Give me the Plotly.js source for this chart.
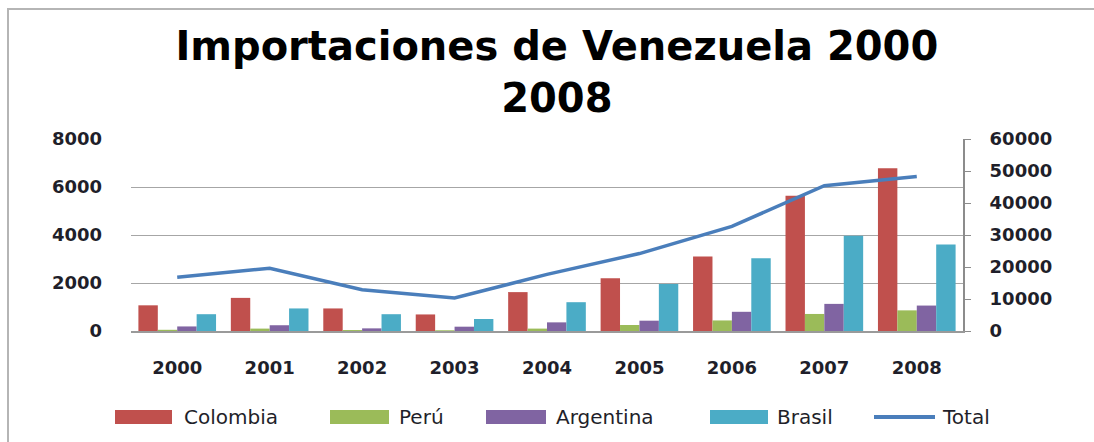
<!DOCTYPE html>
<html>
<head>
<meta charset="utf-8">
<script src="https://cdn.plot.ly/plotly-3.0.1.min.js"></script>
<style>html,body{margin:0;padding:0;background:#fff;}#chart{width:1094px;height:442px;}</style>
</head>
<body>
<div id="chart"></div>
<script>
var years = ['2000','2001','2002','2003','2004','2005','2006','2007','2008'];
var colombia = [1070, 1380, 940, 690, 1620, 2200, 3100, 5640, 6780];
var peru = [50, 100, 40, 30, 100, 250, 440, 710, 860];
var argentina = [190, 240, 110, 180, 360, 430, 800, 1130, 1060];
var brasil = [700, 940, 700, 500, 1200, 1960, 3030, 3970, 3600];
var total = [16800, 19600, 12900, 10300, 17700, 24200, 32700, 45400, 48300];
var leftTicks = [0, 2000, 4000, 6000, 8000];
var rightTicks = [0, 10000, 20000, 30000, 40000, 50000, 60000];

var seriesNames = ['Colombia', 'Perú', 'Argentina', 'Brasil', 'Total'];
var seriesColors = ['#C0504D', '#9BBB59', '#8064A2', '#4BACC6', '#4A7EBB'];

var tickFont = {family: 'DejaVu Sans', size: 18, color: '#1f1f2a', weight: 'bold'};

var barData = [colombia, peru, argentina, brasil];
var traces = barData.map(function (vals, i) {
  return {type: 'bar', name: seriesNames[i], x: years, y: vals, marker: {color: seriesColors[i]}};
});
traces.push({type: 'scatter', mode: 'lines', name: seriesNames[4], x: years, y: total, yaxis: 'y2',
  line: {color: seriesColors[4], width: 3.5}});

// custom legend (layout only): pixel positions of swatch start, swatch end, text start
var W = 1094, H = 442, ML = 131, MR = 131, MT = 139, MB = 111;
var PW = W - ML - MR, PH = H - MT - MB;
function px(x) { return (x - ML) / PW; }
function py(y) { return (H - MB - y) / PH; }
var legendSlots = [[115, 172, 182], [330, 389, 397], [486, 546, 554], [710, 768, 775], [874, 935, 940]];
var legendY = 417;
var shapes = [{
  type: 'rect', xref: 'paper', yref: 'paper',
  x0: px(8), x1: 1.6, y0: -1.2, y1: py(9),
  line: {color: '#b5b5b5', width: 2}, fillcolor: 'rgba(0,0,0,0)', layer: 'below'
}];
var annotations = [];
legendSlots.forEach(function (s, i) {
  if (i < 4) {
    shapes.push({type: 'rect', xref: 'paper', yref: 'paper', x0: px(s[0]), x1: px(s[1]),
      y0: py(legendY + 7), y1: py(legendY - 7), fillcolor: seriesColors[i], line: {width: 0}});
  } else {
    shapes.push({type: 'line', xref: 'paper', yref: 'paper', x0: px(s[0]), x1: px(s[1]),
      y0: py(legendY), y1: py(legendY), line: {color: seriesColors[i], width: 4}});
  }
  annotations.push({xref: 'paper', yref: 'paper', x: px(s[2]), y: py(legendY), xanchor: 'left', yanchor: 'middle',
    text: seriesNames[i], showarrow: false, font: {family: 'DejaVu Sans', size: 20, color: '#1f1f2a'}});
});

var layout = {
  width: W, height: H,
  margin: {l: ML, r: MR, t: MT, b: MB, autoexpand: false},
  paper_bgcolor: '#ffffff', plot_bgcolor: '#ffffff',
  title: {
    text: '<b>Importaciones de Venezuela 2000<br>2008</b>',
    font: {family: 'DejaVu Sans', size: 40, color: '#000000'},
    x: 0.509, xanchor: 'center', xref: 'container',
    y: 0.865, yanchor: 'middle', yref: 'container'
  },
  barmode: 'group', bargap: 0.16, bargroupgap: 0,
  showlegend: false,
  xaxis: {
    type: 'category', tickfont: tickFont, showline: true, linecolor: '#9a9a9a', linewidth: 1.5,
    ticks: '', showgrid: false, ticklabelstandoff: 20, automargin: false
  },
  yaxis: {
    range: [0, 8000], tickvals: leftTicks, tickfont: tickFont,
    showgrid: true, gridcolor: '#a6a6a6', gridwidth: 1, zeroline: false,
    showline: false, ticks: '', ticklabelstandoff: 28, fixedrange: true, automargin: false
  },
  yaxis2: {
    overlaying: 'y', side: 'right', range: [0, 60000], tickvals: rightTicks, tickformat: 'd', tickfont: tickFont,
    showgrid: false, zeroline: false, showline: true, linecolor: '#8c8c8c', linewidth: 2,
    ticks: 'outside', ticklen: 6, tickcolor: '#8c8c8c', ticklabelstandoff: 15, fixedrange: true, automargin: false
  },
  shapes: shapes,
  annotations: annotations
};

Plotly.newPlot('chart', traces, layout, {displayModeBar: false, staticPlot: true});
</script>
</body>
</html>
